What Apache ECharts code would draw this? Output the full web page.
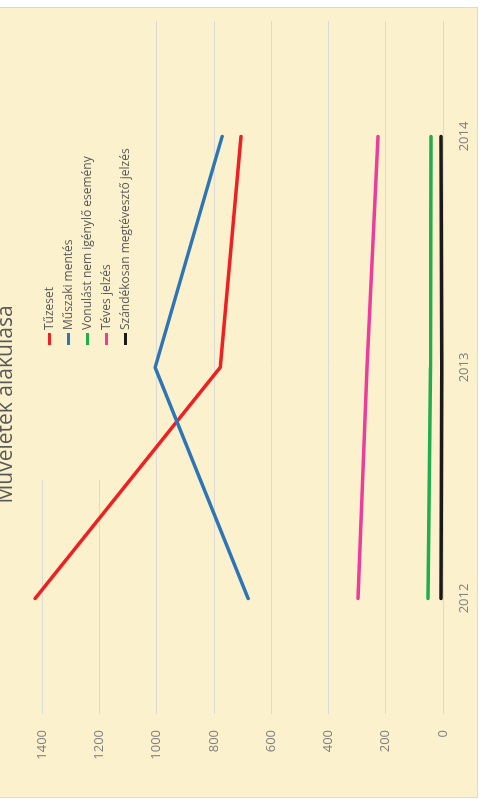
<!DOCTYPE html>
<html>
<head>
<meta charset="utf-8">
<script src="https://cdn.jsdelivr.net/npm/echarts@6/dist/echarts.min.js"></script>
<style>
html,body{margin:0;padding:0;background:#fff;overflow:hidden;width:485px;height:809px;}
#rot{position:absolute;left:0;top:0;width:809px;height:485px;transform-origin:0 0;transform:translate(0,809px) rotate(-90deg);}
#bg{position:absolute;left:11px;top:-1px;width:789px;height:477px;background:#fcf1cd;border:1px solid #d9d9d9;}
#chart{position:absolute;left:0;top:0;width:809px;height:485px;}
</style>
</head>
<body>
<div id="rot"><div id="bg"></div><div id="chart"></div></div>
<script>
const titleText = 'Műveletek alakulása';
const years = ['2012', '2013', '2014'];
const seriesNames = ['Tűzeset', 'Műszaki mentés', 'Vonulást nem igénylő esemény', 'Téves jelzés', 'Szándékosan megtévesztő jelzés'];
const tuzeset = [1424, 778, 705];
const muszaki = [680, 1005, 771];
const vonulas = [52, 44, 42];
const teves = [297, 265, 227];
const szandekos = [7, 4, 7];
const valueTicks = [0, 200, 400, 600, 800, 1000, 1200, 1400];
const colors = ['#ee2024', '#2e75b6', '#1fae4b', '#ec3d9c', '#1a1a1a'];

const dataSets = [tuzeset, muszaki, vonulas, teves, szandekos];
const chart = echarts.init(document.getElementById('chart'), null, {renderer: 'canvas'});
const font = '"Open Sans", "Noto Sans", sans-serif';
chart.setOption({
  backgroundColor: 'transparent',
  animation: false,
  color: colors,
  title: {
    text: titleText,
    left: 'center',
    top: -9,
    textStyle: {fontSize: 21, fontWeight: 'normal', color: '#595959', fontFamily: font}
  },
  graphic: [{
    type: 'rect',
    z: 1,
    silent: true,
    shape: {x: 329, y: 0, width: 460, height: 136},
    style: {fill: '#fcf1cd'}
  }],
  legend: {
    orient: 'vertical',
    left: 464,
    top: 42,
    padding: 0,
    icon: 'rect',
    itemWidth: 12,
    itemHeight: 3,
    itemGap: 4,
    textStyle: {fontSize: 12, color: '#595959', fontFamily: font, lineHeight: 15, padding: [0,0,0,-2]},
    data: seriesNames
  },
  grid: {left: 95, right: 21, top: 42, bottom: 42, containLabel: false},
  xAxis: {
    type: 'category',
    data: years,
    boundaryGap: true,
    axisLine: {show: false},
    axisTick: {show: false},
    axisLabel: {color: '#808080', fontSize: 13, fontFamily: font, margin: 15}
  },
  yAxis: {
    type: 'value',
    min: valueTicks[0],
    max: valueTicks[valueTicks.length - 1],
    interval: valueTicks[1] - valueTicks[0],
    axisLine: {show: false},
    axisTick: {show: false},
    splitLine: {lineStyle: {color: '#d9d9d9', width: 1}},
    axisLabel: {color: '#808080', fontSize: 13, fontFamily: font, margin: 16, formatter: v => String(v)}
  },
  series: seriesNames.map((n, i) => ({
    name: n,
    type: 'line',
    data: dataSets[i],
    symbol: 'none',
    clip: false,
    z: 2,
    lineStyle: {width: 3.5, color: colors[i], cap: 'round'},
    itemStyle: {color: colors[i]}
  }))
});
</script>
</body>
</html>
